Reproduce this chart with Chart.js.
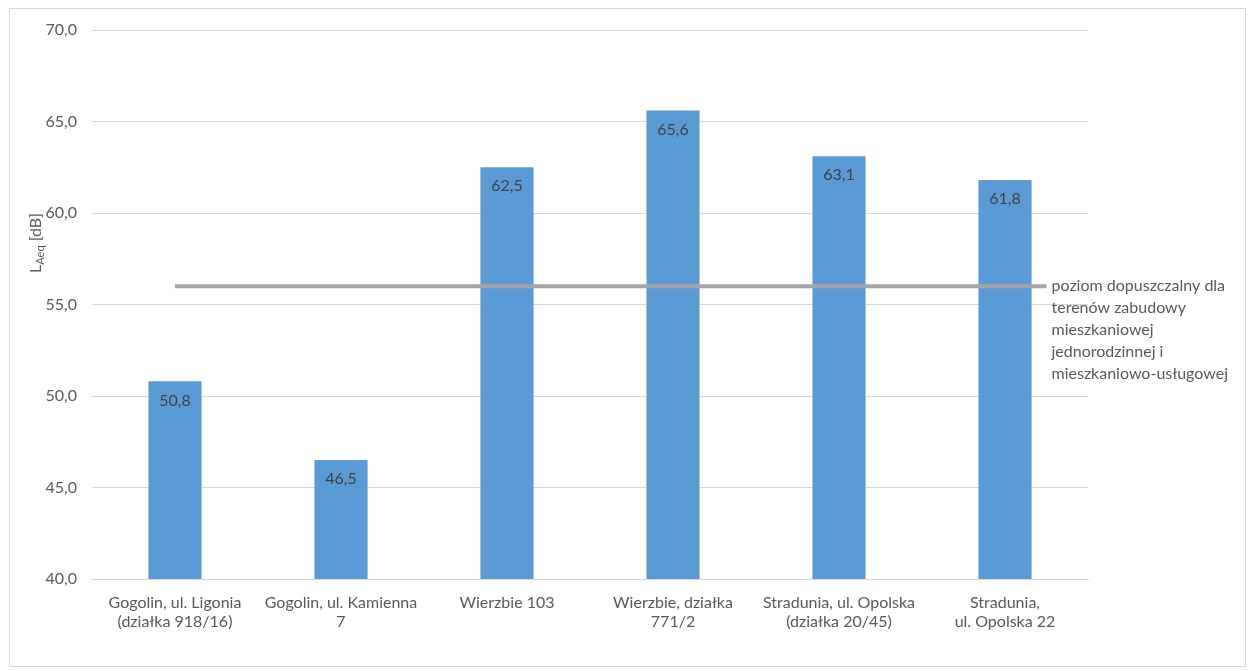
<!DOCTYPE html>
<html>
<head>
<meta charset="utf-8">
<script src="https://cdn.jsdelivr.net/npm/chart.js@4"></script>
<style>
body{margin:0;background:#fff;}
#box{position:absolute;left:9px;top:8px;width:1237px;height:659px;border:1px solid #D9D9D9;box-sizing:border-box;}
</style>
</head>
<body>
<div id="box"><canvas id="wykres" width="1235" height="657"></canvas></div>
<script>
/* DANE */
const kategorie = [
  ['Gogolin, ul. Ligonia','(działka 918/16)'],
  ['Gogolin, ul. Kamienna','7'],
  ['Wierzbie 103'],
  ['Wierzbie, działka','771/2'],
  ['Stradunia, ul. Opolska','(działka 20/45)'],
  ['Stradunia,','ul. Opolska 22']
];
const wartosci = [50.8, 46.5, 62.5, 65.6, 63.1, 61.8];
const poziomDopuszczalny = 56;
const liniaOd = 0, liniaDo = 5.25;
const opisLinii = ['poziom dopuszczalny dla','terenów zabudowy','mieszkaniowej','jednorodzinnej i','mieszkaniowo-usługowej'];
const yMin = 40, yMax = 70, yKrok = 5;

const FONT = 'Lato, "Open Sans", sans-serif';
const fmt = v => v.toFixed(1).replace('.', ',');

/* PLUGIN: etykiety, opis linii, tytul osi */
const dodatki = {
  id:'dodatki',
  afterDatasetsDraw(chart){
    const c = chart.ctx;
    const y = chart.scales.y, x2 = chart.scales.x2;
    c.save();
    c.font = '16px ' + FONT;
    c.fillStyle = '#404040';
    c.textAlign = 'center';
    c.textBaseline = 'middle';
    chart.getDatasetMeta(0).data.forEach((bar, i) => {
      c.fillText(fmt(wartosci[i]), bar.x, bar.y + 19);
    });
    // opis linii
    c.fillStyle = '#595959';
    c.textAlign = 'left';
    const lx = x2.getPixelForValue(liniaDo) + 5;
    const ly = y.getPixelForValue(poziomDopuszczalny);
    opisLinii.forEach((t, i) => c.fillText(t, lx, ly + i * 22));
    // tytul osi Y z indeksem dolnym
    c.translate(26, 234);
    c.rotate(-Math.PI / 2);
    c.textAlign = 'left';
    c.font = '16px ' + FONT;
    const wL = c.measureText('L').width;
    c.font = '11px ' + FONT;
    const wSub = c.measureText('Aeq').width;
    c.font = '16px ' + FONT;
    const wR = c.measureText(' [dB]').width;
    let sx = -(wL + wSub + wR) / 2;
    c.fillText('L', sx, 0);
    c.font = '11px ' + FONT;
    c.fillText('Aeq', sx + wL, 4);
    c.font = '16px ' + FONT;
    c.fillText(' [dB]', sx + wL + wSub, 0);
    c.restore();
  }
};

new Chart(document.getElementById('wykres'), {
  type:'bar',
  data:{
    labels: kategorie,
    datasets:[
      {
        type:'bar',
        data: wartosci,
        backgroundColor:'#5B9BD5',
        grouped:false,
        barPercentage:0.64,
        categoryPercentage:0.5,
        order:2
      },
      {
        type:'line',
        xAxisID:'x2',
        data:[{x:liniaOd, y:poziomDopuszczalny},{x:liniaDo, y:poziomDopuszczalny}],
        borderColor:'#A5A5A5',
        borderWidth:4,
        pointRadius:0,
        order:1
      }
    ]
  },
  options:{
    responsive:false,
    animation:false,
    layout:{padding:{left:0, right:157, top:21, bottom:0}},
    plugins:{legend:{display:false}, tooltip:{enabled:false}},
    scales:{
      x:{
        grid:{display:false, drawTicks:false},
        border:{color:'#D9D9D9', width:1},
        ticks:{color:'#595959', font:{family:FONT, size:16}, padding:14, maxRotation:0, autoSkip:false},
        afterFit(s){ s.height = 87; s.paddingLeft = 0; s.paddingRight = 0; }
      },
      x2:{
        type:'linear', display:false, offset:false, min:-0.5, max:5.5
      },
      y:{
        min:yMin, max:yMax,
        grid:{color:'#D9D9D9', drawTicks:false},
        border:{display:false},
        ticks:{stepSize:yKrok, color:'#595959', font:{family:FONT, size:16}, padding:15, callback:v => fmt(v)},
        afterFit(s){ s.width = 82; s.paddingTop = 0; s.paddingBottom = 0; }
      }
    }
  },
  plugins:[dodatki]
});
</script>
</body>
</html>
